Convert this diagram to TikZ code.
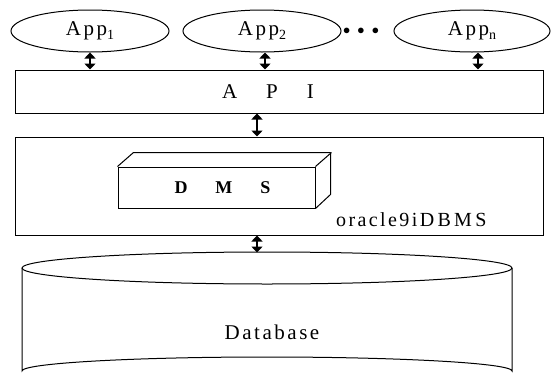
\documentclass[tikz,border=0pt]{standalone}
\usepackage{fontspec}
\setmainfont{Liberation Serif}
\newfontfamily\spaced[LetterSpace=12]{Liberation Serif}
\usetikzlibrary{shapes.geometric,arrows.meta}

\newcommand{\lowsub}[1]{\raisebox{-4pt}{\fontsize{14}{16}\selectfont #1}}

\tikzset{
  app/.style={ellipse, draw, line width=1pt, minimum width=158pt, minimum height=42pt, inner sep=0pt,
    font=\spaced\fontsize{21}{24}\selectfont},
  layer/.style={rectangle, draw, line width=1pt, inner sep=0pt},
  biarrow/.style={line width=2.2pt, {Triangle[width=11pt,length=6pt]}-{Triangle[width=11pt,length=6pt]}},
}

\begin{document}
\begin{tikzpicture}[x=1pt,y=-1pt]
            \useasboundingbox (0,0) rectangle (555,378);
            \clip (0,0) rectangle (555,378);

            % Drawing the applications
            \node [app] (app1) at (90,31) {App\lowsub{1}};
            \node [app] (app2) at (262,31) {App\lowsub{2}};
            \node [app, minimum width=156pt] (appn) at (472,31) {App\lowsub{n}};
            \node (dots) at (361,31) {\fontsize{14}{18}\selectfont$\bullet\;\bullet\;\bullet$};

            % Drawing layer API
            \node [layer, minimum width=528pt, minimum height=43pt] (api) at (279,91.5)
              {\fontsize{21}{24}\selectfont\hspace*{-22pt}A\hspace{29pt}P\hspace{29pt}I};

            % Drawing layer oracle9iDBMS
            \node [layer, minimum width=528pt, minimum height=98pt] (dbms) at (279,186) {};
            \node [anchor=base east, font=\spaced\fontsize{20}{24}\selectfont] (name) at (490,226) {oracle9iD\,B\,M\,S};

            % Drawing box DMS with its depth
            \node [layer, minimum width=197pt, minimum height=41pt, font=\bfseries\fontsize{18}{22}\selectfont]
              (dms) at (216.5,187.5) {\hspace*{12pt}D\hspace{28pt}M\hspace{28pt}S};
            \draw [line width=1pt, line join=round] (dms.north west) -- ++(16,-14) -- ++(197,0) -- ++(0,42)
              -- (dms.south east);
            \draw [line width=1pt] (dms.north east) -- ++(16,-14);

            % Drawing the Database cylinder
            \coordinate (dbtop) at (257,252.5);
            \draw [line width=1pt] (267,268) ellipse [x radius=245, y radius=16];
            \draw [line width=1pt] (22,268) -- (22,371) arc [start angle=180, end angle=360, x radius=245, y radius=14]
              -- (512,268);
            \node [font=\spaced\fontsize{21}{24}\selectfont] (db) at (272,332) {Database};

            % Drawing the links
            \draw [biarrow] (app1.south) -- (app1.south |- api.north);
            \draw [biarrow] ([xshift=3pt]app2.south) -- ([xshift=3pt]app2.south |- api.north);
            \draw [biarrow] ([xshift=6pt]appn.south) -- ([xshift=6pt]appn.south |- api.north);
            \draw [biarrow] ([xshift=-22pt]api.south) -- ([xshift=-22pt]dbms.north);
            \draw [biarrow] ([xshift=-22pt]dbms.south) -- (dbtop);
\end{tikzpicture}
\end{document}
